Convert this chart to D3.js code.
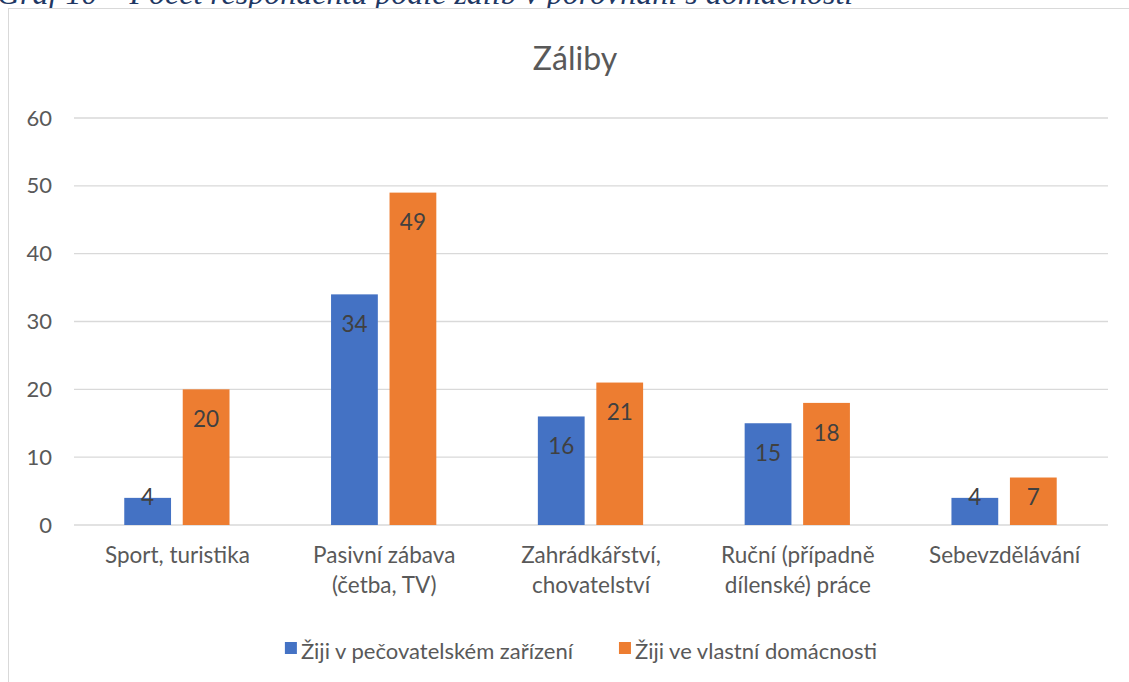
<!DOCTYPE html>
<html>
<head>
<meta charset="utf-8">
<script src="https://cdn.jsdelivr.net/npm/d3@7"></script>
<style>
  html, body { margin: 0; padding: 0; background: #fff; }
  svg { display: block; }
</style>
</head>
<body>
<div id="chart"></div>
<script>
// Data
const categories = [
  "Sport, turistika",
  "Pasivní zábava\n(četba, TV)",
  "Zahrádkářství,\nchovatelství",
  "Ruční (případně\ndílenské) práce",
  "Sebevzdělávání"
];
const seriesNames = ["Žiji v pečovatelském zařízení", "Žiji ve vlastní domácnosti"];
const careHome = [4, 34, 16, 15, 4];
const ownHome = [20, 49, 21, 18, 7];
const yTicks = [0, 10, 20, 30, 40, 50, 60];
const colors = ["#4472C4", "#ED7D31"];

const W = 1129, H = 682;
const margin = { top: 118, right: 21, bottom: 157, left: 74 };
const font = "Lato, 'Open Sans', sans-serif";

const svg = d3.select("#chart").append("svg")
  .attr("width", W)
  .attr("height", H);

// caption above the chart (cut off at the top in the original)
svg.append("text")
  .attr("x", -3)
  .attr("y", 4)
  .attr("font-family", "'Liberation Serif', serif")
  .attr("font-style", "italic")
  .attr("font-size", "32px")
  .attr("fill", "#1F3864")
  .text("Graf 10 – Počet respondentů podle zálib v porovnání s domácností");

// chart frame
svg.append("rect")
  .attr("x", 8.5)
  .attr("y", 8.5)
  .attr("width", W + 20)
  .attr("height", H + 20)
  .attr("fill", "#fff")
  .attr("stroke", "#d9d9d9")
  .attr("stroke-width", 1);

const x0 = d3.scaleBand()
  .domain(categories)
  .range([margin.left, W - margin.right])
  .paddingInner(0)
  .paddingOuter(0);

const x1 = d3.scaleBand()
  .domain([0, 1])
  .range([x0.bandwidth() * 0.243, x0.bandwidth() * 0.752])
  .paddingInner(0.2);

const y = d3.scaleLinear()
  .domain([0, 60])
  .range([H - margin.bottom, margin.top]);

// gridlines
svg.append("g")
  .selectAll("line")
  .data(yTicks)
  .join("line")
  .attr("x1", margin.left)
  .attr("x2", W - margin.right)
  .attr("y1", d => y(d))
  .attr("y2", d => y(d))
  .attr("stroke", "#d9d9d9")
  .attr("stroke-width", 1.3);

// y axis labels
const yAxis = svg.append("g")
  .attr("transform", `translate(${margin.left - 22},0)`)
  .call(d3.axisLeft(y).tickValues(yTicks).tickSize(0).tickPadding(0));
yAxis.select(".domain").remove();
yAxis.selectAll("text")
  .attr("font-family", font)
  .attr("font-size", "22px")
  .attr("fill", "#595959");

// bars
const rows = categories.map((c, i) => ({ cat: c, values: [careHome[i], ownHome[i]] }));

const groups = svg.append("g")
  .selectAll("g")
  .data(rows)
  .join("g")
  .attr("transform", d => `translate(${x0(d.cat)},0)`);

groups.selectAll("rect")
  .data(d => d.values.map((v, s) => ({ v, s })))
  .join("rect")
  .attr("x", d => x1(d.s))
  .attr("y", d => y(d.v))
  .attr("width", x1.bandwidth())
  .attr("height", d => y(0) - y(d.v))
  .attr("fill", d => colors[d.s]);

// value labels, inside end
groups.selectAll("text")
  .data(d => d.values.map((v, s) => ({ v, s })))
  .join("text")
  .attr("x", d => x1(d.s) + x1.bandwidth() / 2)
  .attr("y", d => Math.min(y(d.v) + 30, y(0) - 28))
  .attr("dy", "0.35em")
  .attr("text-anchor", "middle")
  .attr("font-family", font)
  .attr("font-size", "22.5px")
  .attr("fill", "#404040")
  .text(d => d.v);

// category labels
const catLabels = svg.append("g")
  .selectAll("text")
  .data(categories)
  .join("text")
  .attr("x", d => x0(d) + x0.bandwidth() / 2)
  .attr("y", y(0) + 38)
  .attr("text-anchor", "middle")
  .attr("font-family", font)
  .attr("font-size", "22.5px")
  .attr("fill", "#595959");

catLabels.selectAll("tspan")
  .data(d => d.split("\n"))
  .join("tspan")
  .attr("x", function () { return d3.select(this.parentNode).attr("x"); })
  .attr("dy", (d, i) => i === 0 ? 0 : 30)
  .text(d => d);

// title
svg.append("text")
  .attr("x", 575)
  .attr("y", 70)
  .attr("text-anchor", "middle")
  .attr("font-family", font)
  .attr("font-size", "32px")
  .attr("fill", "#595959")
  .text("Záliby");

// legend
const legend = svg.append("g");
let lx = 0;
seriesNames.forEach((name, i) => {
  const item = legend.append("g").attr("transform", `translate(${lx},0)`);
  item.append("rect")
    .attr("x", 0)
    .attr("y", -17)
    .attr("width", 12)
    .attr("height", 12)
    .attr("fill", colors[i]);
  const t = item.append("text")
    .attr("x", 16)
    .attr("y", 0)
    .attr("font-family", font)
    .attr("font-size", "22px")
    .attr("fill", "#595959")
    .text(name);
  lx += 16 + t.node().getComputedTextLength() + 46;
});
const legendWidth = lx - 46;
legend.attr("transform", `translate(${581 - legendWidth / 2},659)`);
</script>
</body>
</html>
